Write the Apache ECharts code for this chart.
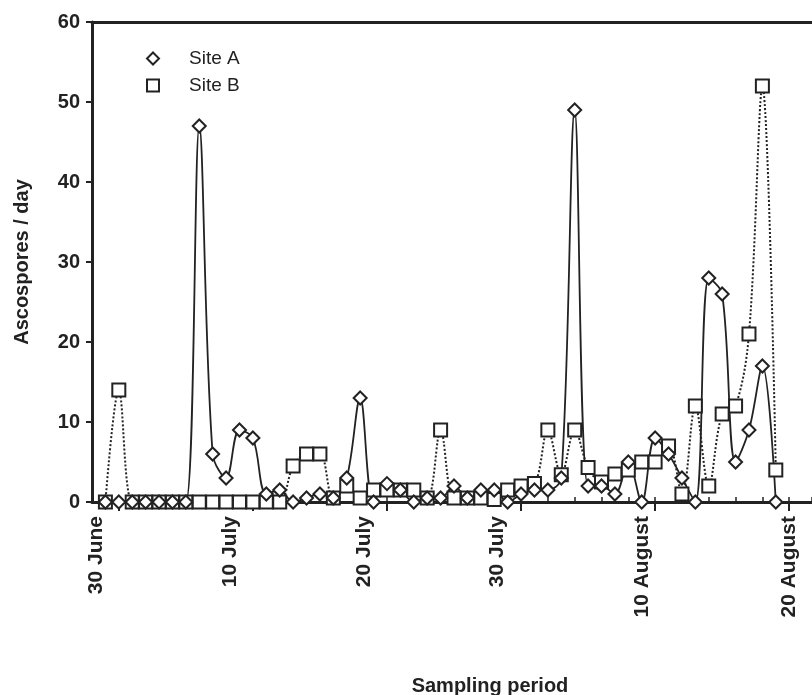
<!DOCTYPE html>
<html>
<head>
<meta charset="utf-8">
<title>Ascospores per day</title>
<script src="https://cdn.jsdelivr.net/npm/echarts@6/dist/echarts.min.js"></script>
<style>
  html, body { margin: 0; padding: 0; background: #fff; }
  #chart { width: 812px; height: 695px; }
</style>
</head>
<body>
<div id="chart"></div>
<script>
// sampling day, counted from 30 June (day 0)
const days = [];
for (let d = 0; d <= 50; d++) days.push(d);

const siteA = [0, 0, 0, 0, 0, 0, 0, 47, 6, 3,
  9, 8, 1, 1.5, 0, 0.5, 1, 0.5, 3, 13,
  0, 2.3, 1.5, 0, 0.5, 0.5, 2, 0.5, 1.5, 1.5,
  0, 1, 1.5, 1.5, 3, 49, 2, 2, 1, 5,
  0, 8, 6, 3, 0, 28, 26, 5, 9, 17,
  0];

const siteB = [0, 14, 0, 0, 0, 0, 0, 0, 0, 0,
  0, 0, 0, 0, 4.5, 6, 6, 0.5, 2, 0.5,
  1.5, 1.5, 1.5, 1.5, 0.5, 9, 0.5, 0.5, 0.5, 0.3,
  1.5, 2, 2.3, 9, 3.4, 9, 4.3, 2.5, 3.5, 4,
  5, 5, 7, 1, 12, 2, 11, 12, 21, 52,
  4];

const tickLabels = ['30 June', '10 July', '20 July', '30 July', '10 August', '20 August'];
const labelDays = [-0.7, 9.3, 19.3, 29.2, 40, 51];
const majorTickDays = [1, 11, 21, 31, 41, 51];

const ink = '#222';
const font = '"Liberation Sans", Arial, sans-serif';
const xMin = -1;
const xMax = 52.7;

const chart = echarts.init(document.getElementById('chart'));

const pairs = arr => days.map((d, i) => [d, arr[i]]);

const option = {
  backgroundColor: '#fff',
  animation: false,
  title: {
    text: 'Sampling period',
    left: 485,
    top: 671,
    textAlign: 'center',
    textStyle: { fontFamily: font, fontSize: 20, fontWeight: 'bold', color: ink }
  },
  legend: {
    orient: 'vertical',
    left: 141,
    top: 44,
    itemWidth: 12,
    itemHeight: 12,
    itemGap: 8,
    textStyle: { fontFamily: font, fontSize: 19, color: ink, padding: [0, 0, 0, 25] },
    data: [
      { name: 'Site A', icon: 'diamond' },
      { name: 'Site B', icon: 'rect' }
    ]
  },
  grid: { left: 92, right: 0, top: 22, bottom: 193 },
  xAxis: [
    {
      type: 'value',
      min: xMin,
      max: xMax,
      interval: 2,
      splitLine: { show: false },
      axisLine: { onZero: false, lineStyle: { color: ink, width: 3 } },
      axisTick: {
        customValues: majorTickDays,
        length: 9,
        lineStyle: { color: ink, width: 2 }
      },
      axisLabel: {
        customValues: labelDays,
        rotate: 90,
        margin: 14,
        fontFamily: font,
        fontSize: 21,
        fontWeight: 'bold',
        color: ink,
        formatter: v => tickLabels[labelDays.indexOf(v)] || ''
      }
    },
    {
      type: 'value',
      min: xMin,
      max: xMax,
      interval: 2,
      position: 'bottom',
      splitLine: { show: false },
      axisLine: { show: false, onZero: false },
      axisTick: { inside: true, length: 5, lineStyle: { color: ink, width: 1.5 } },
      axisLabel: { show: false }
    },
    {
      type: 'value',
      min: xMin,
      max: xMax,
      position: 'top',
      splitLine: { show: false },
      axisLine: { onZero: false, lineStyle: { color: ink, width: 3 } },
      axisTick: { show: false },
      axisLabel: { show: false }
    }
  ],
  yAxis: {
    type: 'value',
    min: 0,
    max: 60,
    interval: 10,
    name: 'Ascospores / day',
    nameLocation: 'middle',
    nameGap: 60,
    nameTextStyle: { fontFamily: font, fontSize: 20, fontWeight: 'bold', color: ink },
    splitLine: { show: false },
    axisLine: { show: true, onZero: false, lineStyle: { color: ink, width: 3 } },
    axisTick: { show: true, length: 6, lineStyle: { color: ink, width: 2 } },
    axisLabel: { margin: 12, fontFamily: font, fontSize: 20, fontWeight: 'bold', color: ink }
  },
  series: [
    {
      name: 'Site B',
      type: 'line',
      xAxisIndex: 0,
      data: pairs(siteB),
      smooth: 0.35,
      symbol: 'rect',
      symbolSize: 13,
      lineStyle: { color: ink, width: 2, type: 'dotted' },
      itemStyle: { color: '#fff', borderColor: ink, borderWidth: 2 }
    },
    {
      name: 'Site A',
      type: 'line',
      xAxisIndex: 0,
      data: pairs(siteA),
      smooth: 0.35,
      symbol: 'diamond',
      symbolSize: 13,
      lineStyle: { color: ink, width: 1.8 },
      itemStyle: { color: '#fff', borderColor: ink, borderWidth: 2 }
    }
  ]
};

chart.setOption(option);
</script>
</body>
</html>
